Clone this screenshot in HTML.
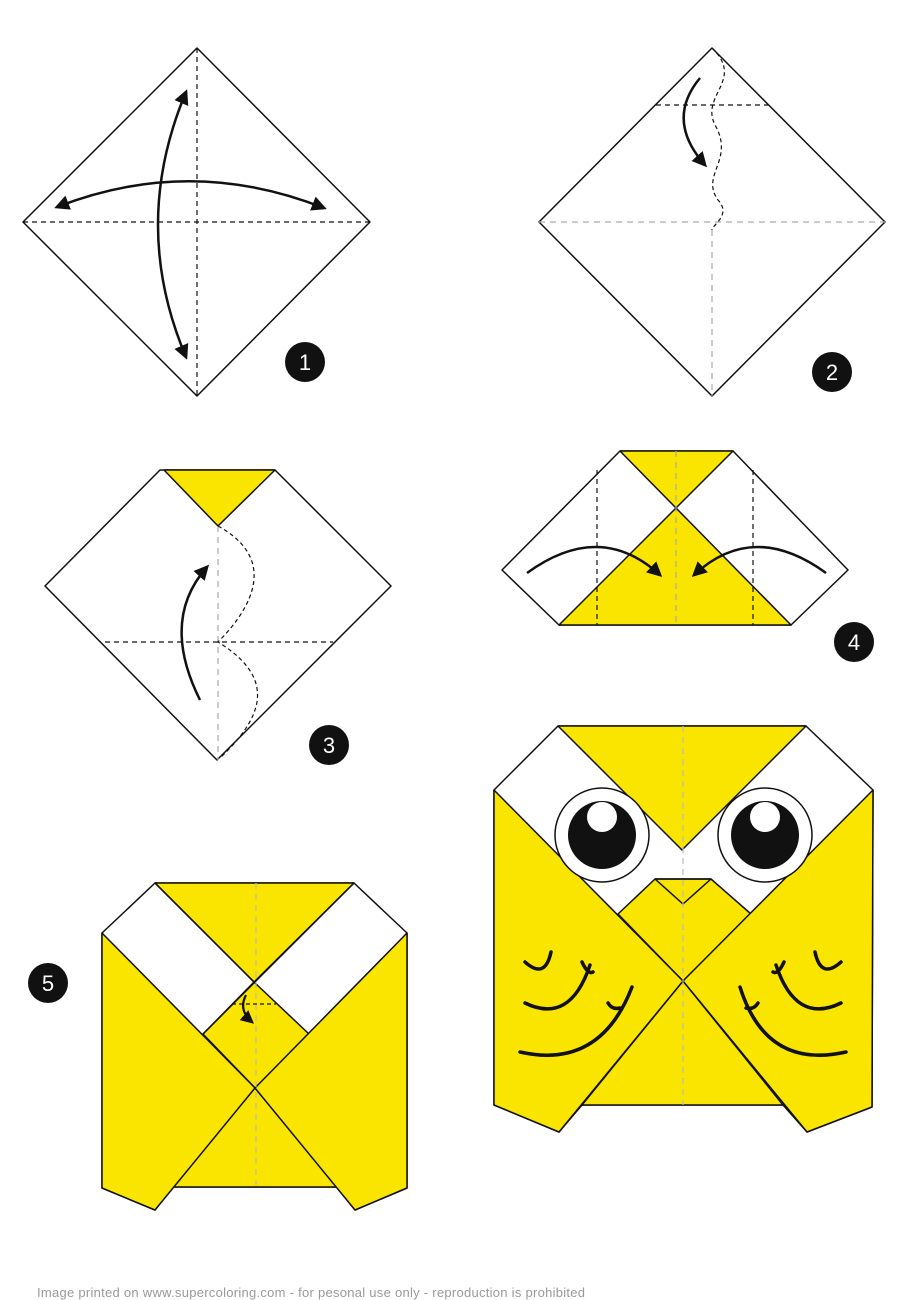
<!DOCTYPE html>
<html><head><meta charset="utf-8"><style>
html,body{margin:0;padding:0;background:#fff;}
svg{display:block;}
text{font-family:"Liberation Sans",sans-serif;}
</style></head><body>
<svg width="919" height="1300" viewBox="0 0 919 1300" xmlns="http://www.w3.org/2000/svg">
<defs>
<marker id="ah" viewBox="0 0 10 10" refX="8" refY="5" markerWidth="6" markerHeight="6" orient="auto-start-reverse"><path d="M0,0 L10,5 L0,10 z" fill="#111"/></marker>
</defs>
<g fill="none" stroke="#111" stroke-width="1.5" stroke-linejoin="round">
<g>
<polygon points="197,48 370,222 197,396 23,222" fill="#fff"/>
<line x1="197" y1="48" x2="197" y2="396" stroke-dasharray="5,4" stroke-width="1.2"/>
<line x1="23" y1="222" x2="370" y2="222" stroke-dasharray="5,4" stroke-width="1.2"/>
<path d="M186,92 Q130,225 186,357" stroke-width="2.5" marker-start="url(#ah)" marker-end="url(#ah)"/>
<path d="M57,207 Q190,155 324,208" stroke-width="2.5" marker-start="url(#ah)" marker-end="url(#ah)"/>
</g>
<g>
<polygon points="712,48 885,222 712,396 539,222" fill="#fff"/>
<line x1="712" y1="230" x2="712" y2="396" stroke="#aaa" stroke-dasharray="6,5" stroke-width="1.2"/>
<line x1="539" y1="222" x2="885" y2="222" stroke="#aaa" stroke-dasharray="6,5" stroke-width="1.2"/>
<line x1="656" y1="105" x2="768" y2="105" stroke-dasharray="5,4" stroke-width="1.2"/>
<path d="M712,48 C745,80 700,95 715,125 C735,160 700,175 718,200 C732,215 712,225 712,230" stroke-dasharray="4,3" stroke-width="1.2"/>
<path d="M700,78 Q665,120 705,165" stroke-width="2.5" marker-end="url(#ah)"/>
</g>
<g>
<polygon points="160,470 275,470 391,586 217,760 45,586" fill="#fff"/>
<polygon points="164,470 275,470 218,526" fill="#f9e500"/>
<line x1="218" y1="526" x2="218" y2="760" stroke="#aaa" stroke-dasharray="6,5" stroke-width="1.2"/>
<line x1="105" y1="642" x2="333" y2="642" stroke-dasharray="5,4" stroke-width="1.2"/>
<path d="M218,526 C280,560 250,610 218,642 C280,680 260,720 220,758" stroke-dasharray="4,3" stroke-width="1.2"/>
<path d="M200,700 Q160,620 207,567" stroke-width="2.5" marker-end="url(#ah)"/>
</g>
<g>
<polygon points="620,451 733,451 848,570 791,625 559,625 502,570" fill="#fff"/>
<polygon points="620,451 733,451 676,508" fill="#f9e500"/>
<polygon points="676,508 559,625 791,625" fill="#f9e500"/>
<line x1="676" y1="451" x2="676" y2="625" stroke="#aaa" stroke-dasharray="6,5" stroke-width="1.2"/>
<line x1="597" y1="470" x2="597" y2="625" stroke-dasharray="5,4" stroke-width="1.2"/>
<line x1="753" y1="470" x2="753" y2="625" stroke-dasharray="5,4" stroke-width="1.2"/>
<path d="M527,573 Q600,520 660,575" stroke-width="2.5" marker-end="url(#ah)"/>
<path d="M826,573 Q753,520 694,575" stroke-width="2.5" marker-end="url(#ah)"/>
</g>
<g>
<polygon points="155,883 354,883 407,933 407,1188 355,1210 337,1187 173,1187 155,1210 102,1188 102,933" fill="#fff"/>
<polygon points="155,883 354,883 254,982" fill="#f9e500"/>
<polygon points="254,982 203,1034 255,1088 309,1034" fill="#f9e500"/>
<polygon points="255,1088 173,1187 337,1187" fill="#f9e500"/>
<polygon points="102,933 255,1088 155,1210 102,1188" fill="#f9e500"/>
<polygon points="407,933 255,1088 355,1210 407,1188" fill="#f9e500"/>
<line x1="155" y1="883" x2="254" y2="982"/>
<line x1="354" y1="883" x2="203" y2="1034"/>
<line x1="256" y1="883" x2="256" y2="1185" stroke="#bbb" stroke-dasharray="6,5" stroke-width="1.2"/>
<line x1="232" y1="1004" x2="276" y2="1004" stroke-dasharray="4,3" stroke-width="1.2"/>
<path d="M246,995 Q238,1010 252,1022" stroke-width="2.2" marker-end="url(#ah)"/>
</g>
<g>
<polygon points="558,726 806,726 873,790 872,1107 807,1132 783,1105 582,1105 559,1132 494,1105 494,790" fill="#fff"/>
<polygon points="558,726 806,726 682,850" fill="#f9e500"/>
<polygon points="655,879 711,879 751,914 683,981 618,914" fill="#f9e500"/>
<polygon points="683,981 582,1105 783,1105" fill="#f9e500"/>
<polygon points="494,790 683,981 559,1132 494,1105" fill="#f9e500"/>
<polygon points="873,790 683,981 807,1132 872,1107" fill="#f9e500"/>
<polyline points="655,879 683,904 711,879"/>
<line x1="655" y1="879" x2="711" y2="879"/>
<line x1="683" y1="726" x2="683" y2="1105" stroke="#bbb" stroke-dasharray="6,5" stroke-width="1.2"/>
<g>
<circle cx="602" cy="835" r="47" fill="#fff"/>
<circle cx="602" cy="835" r="34" fill="#111" stroke="none"/>
<circle cx="602" cy="817" r="15" fill="#fff" stroke="none"/>
</g>
<g>
<circle cx="765" cy="835" r="47" fill="#fff"/>
<circle cx="765" cy="835" r="34" fill="#111" stroke="none"/>
<circle cx="765" cy="817" r="15" fill="#fff" stroke="none"/>
</g>
<g stroke-width="3.5" stroke-linecap="round">
<path d="M525,962 Q545,980 551,952"/>
<path d="M525,1003 Q570,1025 590,965 M582,962 Q588,975 593,972"/>
<path d="M520,1052 Q600,1070 632,987 M608,1003 Q612,1010 620,1008"/>
</g>
<g stroke-width="3.5" stroke-linecap="round">
<path d="M841,962 Q821,980 815,952"/>
<path d="M841,1003 Q796,1025 776,965 M784,962 Q778,975 773,972"/>
<path d="M846,1052 Q766,1070 740,987 M758,1003 Q754,1010 746,1008"/>
</g>
</g>
</g>
<g font-size="22" fill="#fff" text-anchor="middle">
<circle cx="305" cy="362" r="20" fill="#111"/><text x="305" y="370">1</text>
<circle cx="832" cy="372" r="20" fill="#111"/><text x="832" y="380">2</text>
<circle cx="329" cy="745" r="20" fill="#111"/><text x="329" y="753">3</text>
<circle cx="854" cy="642" r="20" fill="#111"/><text x="854" y="650">4</text>
<circle cx="48" cy="983" r="20" fill="#111"/><text x="48" y="991">5</text>
</g>
<text x="37" y="1297" font-size="13" fill="#999" textLength="548">Image printed on www.supercoloring.com - for pesonal use only - reproduction is prohibited</text>
</svg>
</body></html>
